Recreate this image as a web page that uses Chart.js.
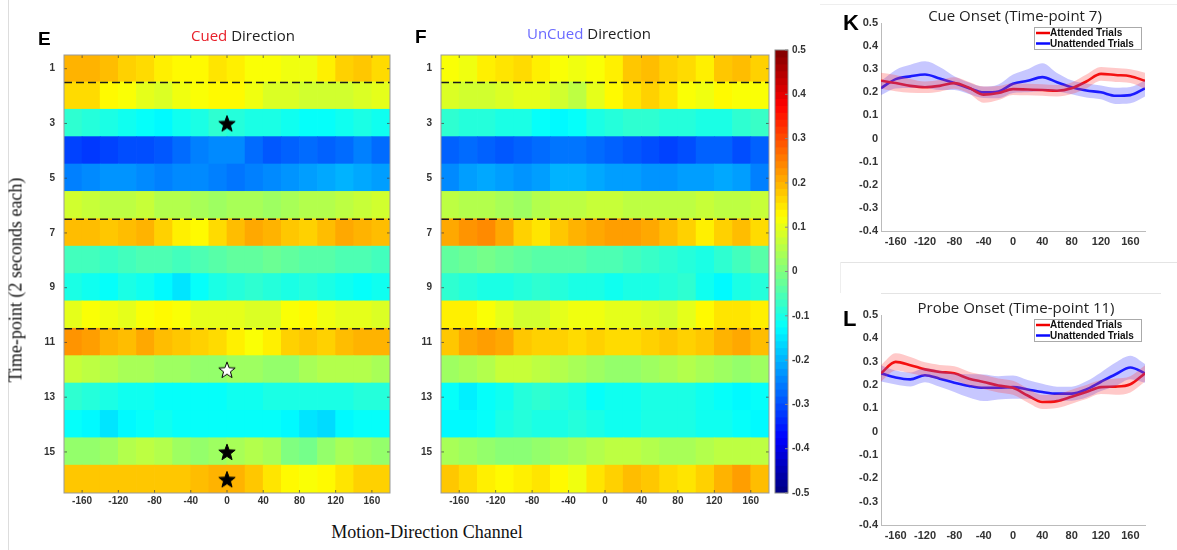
<!DOCTYPE html>
<html>
<head>
<meta charset="utf-8">
<script src="https://cdn.jsdelivr.net/npm/chart.js"></script>
<style>
  body { margin:0; background:#fff; width:1177px; height:550px; position:relative; overflow:hidden; }
  .box { position:absolute; }
  .txt { position:absolute; white-space:nowrap; }
  .letter { font:bold 19px "Liberation Sans", Arial, sans-serif; color:#000; line-height:20px; }
  .big { font-size:22px; line-height:22px; }
  .ttl { font-family:"Open Sans","Noto Sans",sans-serif; font-size:15px; color:#222; transform:translate(-50%,-50%); }
  .lab { font-family:"Liberation Serif","Times New Roman",serif; font-size:18px; color:#111; transform:translate(-50%,-50%); }
  .rule { position:absolute; background:#ddd; }
</style>
</head>
<body>
<div class="rule" style="left:8px;top:0;width:1px;height:550px"></div>
<div class="rule" style="left:820px;top:4px;width:357px;height:1px;background:#eee"></div>
<div class="rule" style="left:840px;top:262px;width:337px;height:1px;background:#e4e4e4"></div>
<div class="rule" style="left:840px;top:262px;width:1px;height:31px;background:#eee"></div>
<div class="rule" style="left:881px;top:293px;width:280px;height:1px;background:#e4e4e4"></div>

<div class="box" style="left:20px;top:40px;width:380px;height:480px"><canvas id="cued"></canvas></div>
<div class="box" style="left:400px;top:40px;width:380px;height:480px"><canvas id="uncued"></canvas></div>
<div class="box" style="left:770px;top:40px;width:50px;height:480px"><canvas id="cbar"></canvas></div>
<div class="box" style="left:830px;top:0;width:347px;height:255px"><canvas id="cue"></canvas></div>
<div class="box" style="left:830px;top:292px;width:347px;height:258px"><canvas id="probe"></canvas></div>

<div class="txt letter" style="left:38px;top:29px">E</div>
<div class="txt letter" style="left:415px;top:27px">F</div>
<div class="txt letter big" style="left:843px;top:12px">K</div>
<div class="txt letter big" style="left:843px;top:308px">L</div>
<div class="txt ttl" style="left:243px;top:35px"><span style="color:#e8202a">Cued</span> Direction</div>
<div class="txt ttl" style="left:589px;top:33px"><span style="color:#6a6aff">UnCued</span> Direction</div>
<div class="txt ttl" style="left:1015px;top:15px">Cue Onset (Time-point 7)</div>
<div class="txt ttl" style="left:1016px;top:307px">Probe Onset (Time-point 11)</div>
<div class="txt lab" style="left:427px;top:532px">Motion-Direction Channel</div>
<div class="txt lab" style="left:16px;top:280px;transform:translate(-50%,-50%) rotate(-90deg)">Time-point (2 seconds each)</div>

<script>
"use strict";
// heatmap axes
const channels = [-170,-150,-130,-110,-90,-70,-50,-30,-10,10,30,50,70,90,110,130,150,170];
const timePoints = [1,2,3,4,5,6,7,8,9,10,11,12,13,14,15,16];
const channelTicks = [-160,-120,-80,-40,0,40,80,120,160];
const rowTicks = [1,3,5,7,9,11,13,15];
const dividers = [1.5, 6.5, 10.5];
const colorTicks = [-0.5,-0.4,-0.3,-0.2,-0.1,0,0.1,0.2,0.3,0.4,0.5];

// E: cued direction, one row per time-point
const cuedRows = [
  [0.20,0.20,0.19,0.17,0.16,0.14,0.13,0.13,0.15,0.14,0.12,0.12,0.11,0.11,0.14,0.17,0.18,0.16],
  [0.16,0.16,0.13,0.12,0.10,0.09,0.11,0.12,0.13,0.13,0.11,0.09,0.09,0.08,0.08,0.08,0.09,0.10],
  [-0.08,-0.09,-0.10,-0.11,-0.12,-0.13,-0.11,-0.10,-0.08,-0.09,-0.10,-0.10,-0.11,-0.12,-0.12,-0.11,-0.10,-0.11],
  [-0.31,-0.32,-0.31,-0.30,-0.30,-0.29,-0.27,-0.25,-0.24,-0.24,-0.27,-0.29,-0.28,-0.27,-0.28,-0.27,-0.25,-0.27],
  [-0.25,-0.24,-0.23,-0.23,-0.24,-0.25,-0.24,-0.24,-0.25,-0.26,-0.25,-0.24,-0.23,-0.22,-0.21,-0.20,-0.21,-0.22],
  [0.08,0.07,0.06,0.06,0.07,0.05,0.05,0.04,0.03,0.04,0.04,0.03,0.04,0.05,0.05,0.06,0.07,0.08],
  [0.19,0.19,0.18,0.19,0.20,0.17,0.14,0.13,0.16,0.19,0.21,0.20,0.18,0.17,0.19,0.21,0.20,0.19],
  [-0.06,-0.06,-0.07,-0.06,-0.05,-0.05,-0.06,-0.05,-0.04,-0.03,-0.03,-0.02,-0.03,-0.04,-0.04,-0.05,-0.05,-0.06],
  [-0.10,-0.11,-0.12,-0.10,-0.11,-0.13,-0.15,-0.12,-0.10,-0.09,-0.08,-0.09,-0.10,-0.09,-0.10,-0.11,-0.12,-0.11],
  [0.10,0.12,0.11,0.10,0.12,0.13,0.12,0.10,0.10,0.10,0.09,0.09,0.12,0.13,0.11,0.10,0.10,0.09],
  [0.23,0.22,0.20,0.19,0.21,0.19,0.18,0.17,0.16,0.14,0.12,0.14,0.17,0.18,0.17,0.19,0.20,0.20],
  [0.07,0.06,0.05,0.04,0.04,0.03,0.03,0.02,0.02,0.03,0.03,0.02,0.02,0.04,0.05,0.05,0.05,0.04],
  [-0.08,-0.09,-0.10,-0.11,-0.11,-0.12,-0.12,-0.12,-0.12,-0.11,-0.11,-0.10,-0.10,-0.10,-0.10,-0.10,-0.09,-0.09],
  [-0.12,-0.13,-0.15,-0.13,-0.12,-0.11,-0.12,-0.12,-0.12,-0.12,-0.12,-0.12,-0.13,-0.15,-0.16,-0.13,-0.12,-0.12],
  [0.02,0.02,0.03,0.05,0.06,0.05,0.03,0.02,0.03,0.04,0.05,0.04,0.00,-0.01,0.02,0.04,0.03,0.02],
  [0.18,0.18,0.18,0.18,0.18,0.18,0.18,0.19,0.20,0.20,0.18,0.15,0.13,0.12,0.13,0.15,0.17,0.17]
];

// F: uncued direction
const uncuedRows = [
  [0.12,0.11,0.14,0.15,0.16,0.14,0.12,0.11,0.12,0.14,0.18,0.19,0.17,0.16,0.14,0.18,0.19,0.17],
  [0.09,0.08,0.08,0.09,0.10,0.10,0.08,0.06,0.10,0.13,0.15,0.17,0.15,0.12,0.11,0.13,0.12,0.12],
  [-0.08,-0.09,-0.09,-0.10,-0.10,-0.12,-0.13,-0.12,-0.10,-0.09,-0.08,-0.08,-0.09,-0.09,-0.10,-0.10,-0.08,-0.07],
  [-0.28,-0.27,-0.28,-0.29,-0.28,-0.27,-0.26,-0.26,-0.27,-0.28,-0.29,-0.30,-0.31,-0.30,-0.28,-0.28,-0.30,-0.28],
  [-0.24,-0.22,-0.21,-0.22,-0.23,-0.22,-0.20,-0.20,-0.21,-0.22,-0.22,-0.23,-0.23,-0.22,-0.22,-0.21,-0.22,-0.25],
  [0.06,0.05,0.05,0.04,0.03,0.05,0.06,0.06,0.07,0.07,0.06,0.06,0.06,0.06,0.07,0.06,0.06,0.07],
  [0.21,0.23,0.24,0.21,0.17,0.15,0.18,0.20,0.21,0.22,0.22,0.21,0.19,0.17,0.14,0.17,0.19,0.16],
  [-0.03,-0.02,-0.01,-0.02,-0.03,-0.04,-0.04,-0.04,-0.05,-0.05,-0.06,-0.07,-0.08,-0.09,-0.10,-0.08,-0.06,-0.04],
  [-0.08,-0.09,-0.10,-0.10,-0.09,-0.08,-0.09,-0.10,-0.10,-0.11,-0.10,-0.10,-0.09,-0.08,-0.11,-0.13,-0.10,-0.09],
  [0.14,0.14,0.12,0.10,0.08,0.08,0.10,0.11,0.11,0.10,0.10,0.09,0.08,0.10,0.13,0.15,0.15,0.14],
  [0.18,0.21,0.22,0.21,0.18,0.17,0.17,0.16,0.17,0.16,0.16,0.17,0.18,0.17,0.18,0.20,0.21,0.19],
  [0.03,0.04,0.05,0.07,0.07,0.06,0.05,0.04,0.03,0.02,0.02,0.03,0.04,0.05,0.04,0.03,0.02,0.03],
  [-0.12,-0.14,-0.12,-0.11,-0.09,-0.08,-0.09,-0.10,-0.12,-0.11,-0.11,-0.10,-0.10,-0.10,-0.11,-0.12,-0.13,-0.12],
  [-0.13,-0.13,-0.12,-0.10,-0.09,-0.10,-0.10,-0.09,-0.10,-0.11,-0.11,-0.10,-0.10,-0.10,-0.11,-0.11,-0.12,-0.13],
  [0.04,0.03,0.02,0.01,0.01,0.02,0.03,0.04,0.05,0.06,0.06,0.05,0.04,0.04,0.05,0.06,0.06,0.06],
  [0.18,0.16,0.14,0.13,0.14,0.15,0.13,0.11,0.15,0.17,0.19,0.18,0.16,0.15,0.17,0.20,0.22,0.19]
];

// significance markers on the cued map
const starsFilled = [{x:0, y:3}, {x:0, y:15}, {x:0, y:16}];
const starsOpen = [{x:0, y:12}];

// K / L tuning curves
const lineX = [-180,-160,-140,-120,-100,-80,-60,-40,-20,0,20,40,60,80,100,120,140,160,180];
const lineYTicks = [-0.4,-0.3,-0.2,-0.1,0,0.1,0.2,0.3,0.4,0.5];
const cueAttended   = [0.25,0.24,0.228,0.222,0.228,0.24,0.22,0.19,0.197,0.214,0.212,0.21,0.207,0.218,0.247,0.28,0.275,0.27,0.25];
const cueAttErr     = [0.035,0.035,0.03,0.025,0.025,0.025,0.025,0.035,0.03,0.025,0.025,0.025,0.025,0.025,0.03,0.03,0.03,0.03,0.035];
const cueUnattended = [0.218,0.257,0.269,0.277,0.26,0.24,0.218,0.2,0.204,0.237,0.25,0.266,0.244,0.222,0.208,0.2,0.185,0.188,0.217];
const cueUnaErr     = [0.03,0.04,0.05,0.057,0.05,0.03,0.025,0.025,0.03,0.04,0.05,0.06,0.04,0.03,0.03,0.03,0.035,0.035,0.035];
const probeAttended   = [0.25,0.299,0.285,0.267,0.256,0.25,0.227,0.213,0.198,0.188,0.155,0.127,0.131,0.15,0.17,0.191,0.193,0.203,0.25];
const probeAttErr     = [0.035,0.037,0.035,0.03,0.03,0.03,0.03,0.03,0.03,0.03,0.03,0.03,0.03,0.03,0.03,0.03,0.035,0.035,0.035];
const probeUnattended = [0.25,0.232,0.224,0.242,0.227,0.21,0.196,0.188,0.188,0.191,0.181,0.17,0.163,0.163,0.181,0.214,0.246,0.275,0.25];
const probeUnaErr     = [0.035,0.03,0.03,0.03,0.035,0.04,0.05,0.057,0.05,0.05,0.04,0.035,0.03,0.03,0.035,0.04,0.05,0.05,0.04];

Chart.defaults.animation = false;
Chart.defaults.responsive = true;
Chart.defaults.maintainAspectRatio = false;
Chart.defaults.plugins.legend.display = false;
Chart.defaults.plugins.tooltip.enabled = false;

// MATLAB jet colour map over [-0.5, 0.5]
function jet(v) {
  const t = Math.min(1, Math.max(0, v + 0.5));
  const c = k => Math.round(255 * Math.min(1, Math.max(0, 1.5 - Math.abs(4 * t - k))));
  return 'rgb(' + c(3) + ',' + c(2) + ',' + c(1) + ')';
}

function starImage(fill) {
  const cv = document.createElement('canvas');
  cv.width = cv.height = 20;
  const g = cv.getContext('2d');
  g.beginPath();
  for (let i = 0; i < 10; i++) {
    const r = i % 2 ? 3.6 : 8.6;
    const a = -Math.PI / 2 + i * Math.PI / 5;
    g.lineTo(10 + r * Math.cos(a), 10.8 + r * Math.sin(a));
  }
  g.closePath();
  g.fillStyle = fill;
  g.fill();
  g.strokeStyle = '#000';
  g.lineWidth = 1;
  g.stroke();
  return cv;
}

const tickFont = { family: '"Liberation Sans", Arial, sans-serif', size: 10, weight: 'bold' };
const noGrid = { display: false, drawTicks: false };

// dashed dividers, inner tick marks and frame for the heatmaps (drawn over cells, under stars)
const heatDecor = {
  id: 'heatDecor',
  afterDatasetDraw(chart, args) {
    if (args.index !== 0) return;
    const { ctx, chartArea: a, scales: { x, y } } = chart;
    ctx.save();
    ctx.strokeStyle = '#1a1a1a';
    ctx.lineWidth = 1.5;
    ctx.setLineDash([8, 4]);
    dividers.forEach(v => {
      const py = y.getPixelForValue(v);
      ctx.beginPath(); ctx.moveTo(a.left, py); ctx.lineTo(a.right, py); ctx.stroke();
    });
    ctx.setLineDash([]);
    ctx.strokeStyle = 'rgba(60,60,60,0.7)';
    ctx.lineWidth = 1;
    channelTicks.forEach(v => {
      const px = x.getPixelForValue(v);
      ctx.beginPath();
      ctx.moveTo(px, a.top); ctx.lineTo(px, a.top + 3);
      ctx.moveTo(px, a.bottom); ctx.lineTo(px, a.bottom - 3);
      ctx.stroke();
    });
    rowTicks.forEach(v => {
      const py = y.getPixelForValue(v);
      ctx.beginPath();
      ctx.moveTo(a.left, py); ctx.lineTo(a.left + 3, py);
      ctx.moveTo(a.right, py); ctx.lineTo(a.right - 3, py);
      ctx.stroke();
    });
    ctx.strokeStyle = '#999';
    ctx.strokeRect(a.left, a.top, a.right - a.left, a.bottom - a.top);
    ctx.restore();
  }
};

function heatmap(id, rows, axisWidth, padRight, stars) {
  const cells = [], colors = [];
  rows.forEach((row, r) => row.forEach((v, c) => {
    cells.push({ y: timePoints[r], x: [channels[c] - 10.4, channels[c] + 10.4] });
    colors.push(jet(v));
  }));
  const datasets = [{
    type: 'bar', data: cells, backgroundColor: colors, borderWidth: 0,
    barPercentage: 1.06, categoryPercentage: 1, order: 2
  }];
  stars.forEach(s => datasets.push({
    type: 'scatter', data: s.points, pointStyle: s.img, pointRadius: 9, clip: false, order: 1
  }));
  return new Chart(document.getElementById(id), {
    type: 'bar',
    data: { datasets },
    options: {
      indexAxis: 'y',
      layout: { padding: { top: 7, right: padRight, left: 0, bottom: 0 } },
      scales: {
        x: {
          type: 'linear', min: -180, max: 180, offset: false,
          afterBuildTicks: s => { s.ticks = channelTicks.map(v => ({ value: v })); },
          afterFit: s => { s.height = 27; },
          grid: noGrid, border: { display: false },
          ticks: { font: tickFont, color: '#333', padding: 2, maxRotation: 0 }
        },
        y: {
          type: 'linear', min: 0.5, max: 16.5, reverse: true, offset: false,
          afterBuildTicks: s => { s.ticks = rowTicks.map(v => ({ value: v })); },
          afterFit: s => { s.width = axisWidth; },
          grid: noGrid, border: { display: false },
          ticks: { font: tickFont, color: '#333', padding: 9 }
        }
      }
    },
    plugins: [heatDecor]
  });
}

heatmap('cued', cuedRows, 44, 8, [
  { points: starsFilled, img: starImage('#000') },
  { points: starsOpen, img: starImage('#fff') }
]);
heatmap('uncued', uncuedRows, 41, 11, []);

// colour bar: 64 jet steps
const barSteps = [];
for (let i = 0; i < 64; i++) barSteps.push(-0.5 + (i + 0.5) / 64);
new Chart(document.getElementById('cbar'), {
  type: 'bar',
  data: {
    datasets: [{
      data: barSteps.map(v => ({ y: v, x: [0, 1] })),
      backgroundColor: barSteps.map(jet),
      borderWidth: 0, barPercentage: 1.15, categoryPercentage: 1
    }]
  },
  options: {
    indexAxis: 'y',
    layout: { padding: { top: 7, left: 5, right: 0, bottom: 27 } },
    scales: {
      x: { type: 'linear', min: 0, max: 1, display: false, offset: false },
      y: {
        type: 'linear', position: 'right', min: -0.5, max: 0.5, offset: false,
        afterBuildTicks: s => { s.ticks = colorTicks.map(v => ({ value: v })); },
        afterFit: s => { s.width = 32; },
        grid: noGrid, border: { display: false },
        ticks: { font: tickFont, color: '#333', padding: 4, callback: v => String(+v.toFixed(1)) }
      }
    }
  },
  plugins: [{
    id: 'cbarFrame',
    afterDatasetsDraw(chart) {
      const { ctx, chartArea: a, scales: { y } } = chart;
      ctx.save();
      ctx.strokeStyle = '#888';
      ctx.lineWidth = 1;
      ctx.strokeRect(a.left, a.top, a.right - a.left, a.bottom - a.top);
      colorTicks.forEach(v => {
        const py = y.getPixelForValue(v);
        ctx.beginPath(); ctx.moveTo(a.right, py); ctx.lineTo(a.right - 3, py); ctx.stroke();
      });
      ctx.restore();
    }
  }]
});

// boxed legend in the top right of the plot area
const boxLegend = {
  id: 'boxLegend',
  afterDraw(chart) {
    const items = chart.data.datasets.filter(d => d.label);
    const { ctx, chartArea: a } = chart;
    const w = 107, h = 22, x0 = a.right - w - 4, y0 = a.top + 4;
    ctx.save();
    ctx.fillStyle = '#fff';
    ctx.fillRect(x0, y0, w, h);
    ctx.strokeStyle = '#aaa';
    ctx.lineWidth = 1;
    ctx.strokeRect(x0 + 0.5, y0 + 0.5, w, h);
    ctx.font = 'bold 10px "Liberation Sans", Arial, sans-serif';
    ctx.textBaseline = 'middle';
    items.forEach((d, i) => {
      const yy = y0 + 6 + i * 10.5;
      ctx.strokeStyle = d.borderColor;
      ctx.lineWidth = 2.5;
      ctx.beginPath(); ctx.moveTo(x0 + 2, yy); ctx.lineTo(x0 + 16, yy); ctx.stroke();
      ctx.fillStyle = '#111';
      ctx.fillText(d.label, x0 + 16, yy + 0.5);
    });
    ctx.restore();
  }
};

function curveChart(id, att, attErr, una, unaErr, xHeight) {
  const pts = (m, e, s) => lineX.map((x, i) => ({ x, y: m[i] + s * e[i] }));
  const band = (data, fill, color) => ({
    data, fill, backgroundColor: color, borderWidth: 0, pointRadius: 0, cubicInterpolationMode: 'monotone'
  });
  const curve = (label, data, color) => ({
    label, data, borderColor: color, borderWidth: 2.6, pointRadius: 0, fill: false, cubicInterpolationMode: 'monotone'
  });
  return new Chart(document.getElementById(id), {
    type: 'line',
    data: {
      datasets: [
        band(pts(att, attErr, -1), false, 'rgba(0,0,0,0)'),
        band(pts(att, attErr, 1), '-1', 'rgba(255,60,60,0.28)'),
        band(pts(una, unaErr, -1), false, 'rgba(0,0,0,0)'),
        band(pts(una, unaErr, 1), '-1', 'rgba(70,70,255,0.3)'),
        curve('Attended Trials', pts(att, attErr, 0), '#f00000'),
        curve('Unattended Trials', pts(una, unaErr, 0), '#0a0aff')
      ]
    },
    options: {
      layout: { padding: { top: 23, right: 32, left: 0, bottom: 0 } },
      scales: {
        x: {
          type: 'linear', min: -180, max: 180,
          afterBuildTicks: s => { s.ticks = channelTicks.map(v => ({ value: v })); },
          afterFit: s => { s.height = xHeight; },
          grid: noGrid, border: { color: '#bbb' },
          ticks: { font: { ...tickFont, size: 11 }, color: '#333', padding: 4, maxRotation: 0 }
        },
        y: {
          type: 'linear', min: -0.4, max: 0.5,
          afterBuildTicks: s => { s.ticks = lineYTicks.map(v => ({ value: v })); },
          afterFit: s => { s.width = 51; },
          grid: noGrid, border: { color: '#bbb' },
          ticks: { font: { ...tickFont, size: 11 }, color: '#333', padding: 3, callback: v => String(+v.toFixed(1)) }
        }
      }
    },
    plugins: [boxLegend]
  });
}

curveChart('cue', cueAttended, cueAttErr, cueUnattended, cueUnaErr, 24);
curveChart('probe', probeAttended, probeAttErr, probeUnattended, probeUnaErr, 25);
</script>
</body>
</html>
